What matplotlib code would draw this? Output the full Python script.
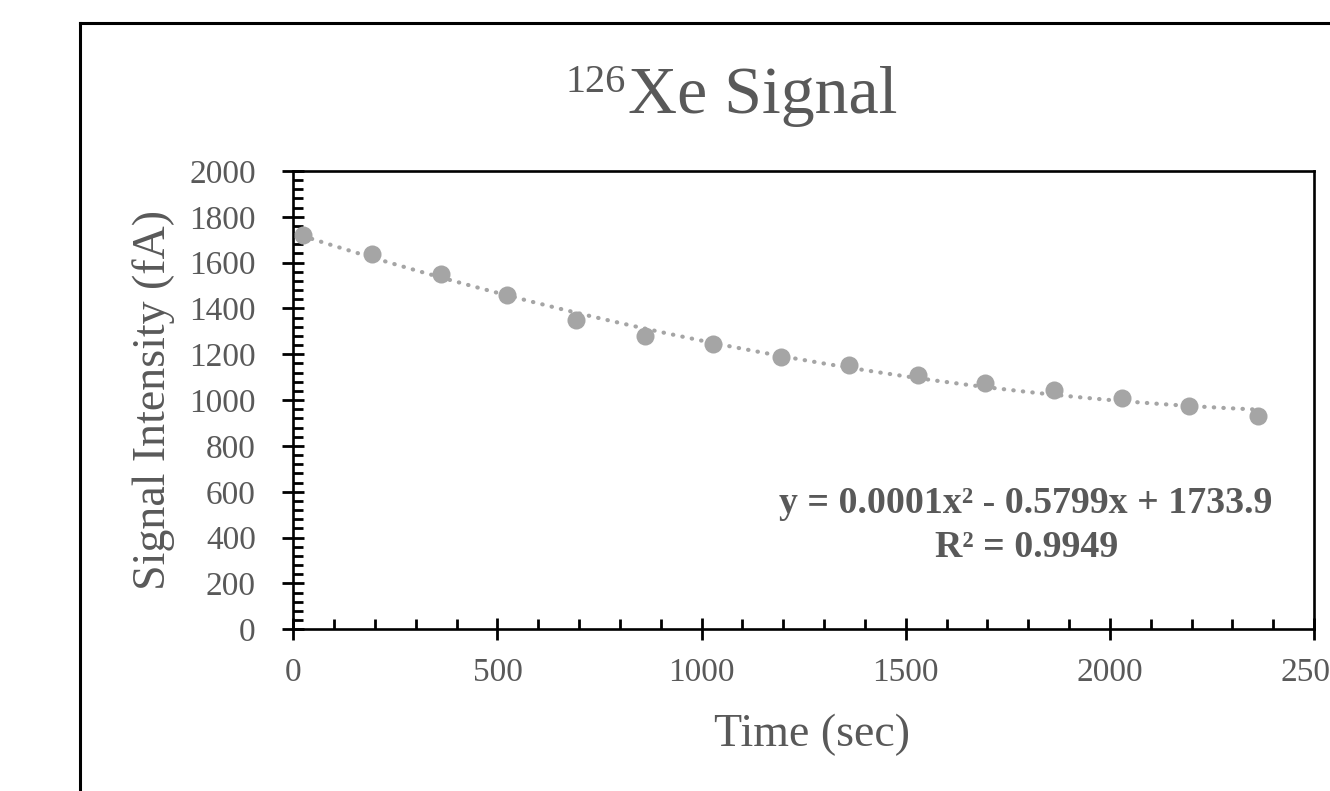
import matplotlib
matplotlib.use("Agg")
import matplotlib.pyplot as plt
import numpy as np
from matplotlib.lines import Line2D
from matplotlib.ticker import MultipleLocator

# data
time_sec = [23, 192, 361, 524, 692, 862, 1029, 1194, 1362, 1530, 1695, 1863, 2030, 2195, 2363]
signal_fa = [1720, 1636, 1550, 1459, 1350, 1281, 1245, 1187, 1152, 1108, 1073, 1044, 1008, 973, 931]
fit_label = "y = 0.0001x² - 0.5799x + 1733.9"
r2_label = "R² = 0.9949"

plt.rcParams['font.family'] = ['Liberation Serif', 'DejaVu Serif']

W, H = 1330, 791
fig = plt.figure(figsize=(W / 100, H / 100), dpi=100)
ax = fig.add_axes([293.3 / W, 1 - 629.3 / H, (1314 - 293.3) / W, (629.3 - 171) / H])

gray_txt = '#595959'
dot_col = '#A5A5A5'

# quadratic trendline from the points
coef = np.polyfit(time_sec, signal_fa, 2)
xs = np.linspace(min(time_sec), max(time_sec), 300)
ax.plot(xs, np.polyval(coef, xs), color=dot_col, linewidth=3.0,
        linestyle=(0, (0.1, 2.2)), dash_capstyle='round', zorder=2)
ax.plot(time_sec, signal_fa, 'o', color=dot_col, markersize=13,
        markeredgewidth=0, zorder=3, clip_on=False)

ax.set_xlim(0, 2500)
ax.set_ylim(0, 2000)
ax.xaxis.set_major_locator(MultipleLocator(500))
ax.xaxis.set_minor_locator(MultipleLocator(100))
ax.yaxis.set_major_locator(MultipleLocator(200))
ax.yaxis.set_minor_locator(MultipleLocator(40))

for s in ax.spines.values():
    s.set_linewidth(1.9)
    s.set_color('black')

ax.tick_params(axis='both', which='major', direction='inout', length=16, width=2.0,
               color='black', labelsize=24, labelcolor=gray_txt)
ax.tick_params(axis='x', which='major', pad=12)
ax.tick_params(axis='y', which='major', pad=19)
ax.tick_params(axis='both', which='minor', direction='in', length=7, width=2.0, color='black')

ax.set_xlabel('Time (sec)', fontsize=33, color=gray_txt, va='baseline')
ax.xaxis.set_label_coords(0.508, -0.255)
ax.set_ylabel('Signal Intensity (fA)', fontsize=33, color=gray_txt, va='center')
ax.yaxis.set_label_coords(-0.137, 0.5)

# trendline equation
ax.text(0.718, (629.3 - 513) / 458.3, fit_label, transform=ax.transAxes, ha='center',
        va='baseline', fontsize=27.3, fontweight='bold', color=gray_txt)
ax.text(0.718, (629.3 - 556.7) / 458.3, r2_label, transform=ax.transAxes, ha='center',
        va='baseline', fontsize=27.3, fontweight='bold', color=gray_txt)

# title with isotope superscript
fig.text(628 / W, 1 - 113 / H, 'Xe Signal', ha='left', va='baseline', fontsize=49, color=gray_txt)
fig.text(626 / W, 1 - 92 / H, '126', ha='right', va='baseline', fontsize=29, color=gray_txt)

# outer chart border (runs off the right and bottom edges)
bx, by = 80 / W, 1 - 23 / H
fig.add_artist(Line2D([bx, bx], [0, by], color='black', linewidth=2.2, transform=fig.transFigure))
fig.add_artist(Line2D([bx, 1.0], [by, by], color='black', linewidth=2.2, transform=fig.transFigure))

fig.savefig('out.png', dpi=100)
